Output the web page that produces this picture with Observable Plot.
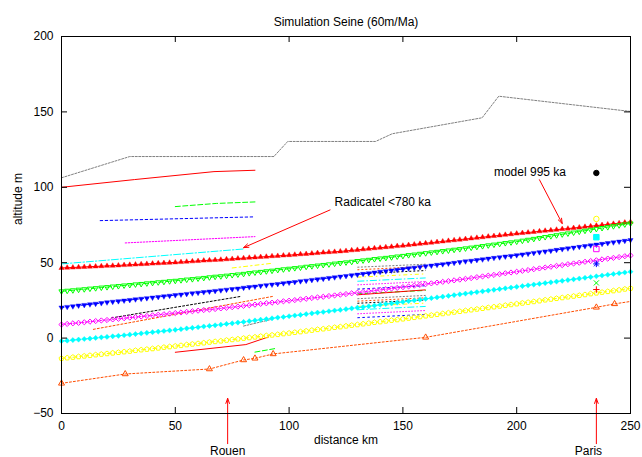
<!DOCTYPE html>
<html><head><meta charset="utf-8">
<script src="https://cdn.jsdelivr.net/npm/d3@7"></script>
<script src="https://cdn.jsdelivr.net/npm/@observablehq/plot@0.6"></script>
<style>body{margin:0;background:#fff}</style>
</head><body><div id="chart"></div>
<script>
// ---------- data ----------
const title = "Simulation Seine (60m/Ma)";
const xLabel = "distance km";
const yLabel = "altitude m";
const xTicks = [0, 50, 100, 150, 200, 250];
const yTicks = [-50, 0, 50, 100, 150, 200];

// model profile nodes (km)
const dist = [0,2.5,5,7.5,10,12.5,15,17.5,20,22.5,25,27.5,30,32.5,35,37.5,40,42.5,45,47.5,50,52.5,55,57.5,60,62.5,65,67.5,70,72.5,75,77.5,80,82.5,85,87.5,90,92.5,95,97.5,100,102.5,105,107.5,110,112.5,115,117.5,120,122.5,125,127.5,130,132.5,135,137.5,140,142.5,145,147.5,150,152.5,155,157.5,160,162.5,165,167.5,170,172.5,175,177.5,180,182.5,185,187.5,190,192.5,195,197.5,200,202.5,205,207.5,210,212.5,215,217.5,220,222.5,225,227.5,230,232.5,235,237.5,240,242.5,245,247.5,250];

const terraceRed = [46.5,46.7,46.8,47.0,47.2,47.4,47.5,47.7,47.9,48.0,48.2,48.4,48.6,48.8,49.0,49.2,49.4,49.6,49.8,50.0,50.2,50.4,50.7,50.9,51.1,51.4,51.6,51.8,52.0,52.3,52.5,52.8,53.0,53.3,53.5,53.8,54.0,54.3,54.5,54.8,55.0,55.3,55.6,55.8,56.1,56.4,56.7,57.0,57.2,57.5,57.8,58.2,58.5,58.9,59.2,59.6,59.9,60.3,60.6,61.0,61.3,61.7,62.1,62.5,62.9,63.3,63.7,64.1,64.5,64.9,65.3,65.7,66.1,66.5,66.9,67.3,67.7,68.1,68.5,68.9,69.3,69.7,70.0,70.4,70.8,71.2,71.5,71.9,72.3,72.6,73.0,73.4,73.8,74.2,74.6,75.0,75.4,75.8,76.2,76.6,77.0];
const terraceGreen = [31.0,31.4,31.7,32.1,32.4,32.8,33.1,33.5,33.8,34.2,34.5,34.9,35.2,35.6,35.9,36.3,36.6,37.0,37.3,37.7,38.0,38.4,38.8,39.1,39.5,39.9,40.3,40.7,41.0,41.4,41.8,42.2,42.6,43.1,43.5,43.9,44.3,44.7,45.2,45.6,46.0,46.4,46.8,47.3,47.7,48.1,48.5,48.9,49.4,49.8,50.2,50.6,51.1,51.5,51.9,52.4,52.8,53.2,53.6,54.1,54.5,55.0,55.4,55.9,56.3,56.8,57.2,57.7,58.1,58.6,59.0,59.5,60.0,60.5,61.0,61.5,62.0,62.5,63.0,63.5,64.0,64.6,65.2,65.8,66.4,67.0,67.6,68.2,68.8,69.4,70.0,70.6,71.2,71.8,72.4,73.0,73.6,74.2,74.8,75.4,76.0];
const terraceBlue = [20.3,20.7,21.1,21.6,22.0,22.4,22.8,23.2,23.7,24.1,24.5,24.9,25.3,25.7,26.1,26.5,26.9,27.3,27.7,28.1,28.5,28.9,29.3,29.7,30.1,30.5,30.9,31.3,31.7,32.1,32.5,32.9,33.4,33.8,34.2,34.7,35.1,35.5,35.9,36.4,36.8,37.2,37.7,38.1,38.6,39.0,39.4,39.9,40.3,40.8,41.2,41.7,42.1,42.6,43.0,43.5,44.0,44.4,44.9,45.3,45.8,46.3,46.7,47.2,47.6,48.1,48.6,49.0,49.5,49.9,50.4,50.9,51.3,51.8,52.2,52.7,53.2,53.6,54.1,54.5,55.0,55.5,56.0,56.5,57.0,57.5,58.0,58.5,59.0,59.5,60.0,60.5,61.0,61.5,62.0,62.5,63.0,63.5,64.0,64.5,65.0];
const terraceMagenta = [9.0,9.4,9.8,10.1,10.5,10.9,11.3,11.7,12.0,12.4,12.8,13.2,13.6,13.9,14.3,14.7,15.1,15.5,15.8,16.2,16.6,17.0,17.4,17.8,18.2,18.6,18.9,19.3,19.7,20.1,20.5,20.9,21.4,21.8,22.2,22.7,23.1,23.5,23.9,24.4,24.8,25.2,25.7,26.1,26.6,27.0,27.4,27.9,28.3,28.8,29.2,29.7,30.1,30.6,31.0,31.5,32.0,32.4,32.9,33.3,33.8,34.3,34.8,35.3,35.8,36.3,36.8,37.3,37.8,38.3,38.8,39.3,39.8,40.4,40.9,41.4,41.9,42.4,43.0,43.5,44.0,44.6,45.1,45.7,46.2,46.8,47.3,47.9,48.4,49.0,49.5,50.0,50.6,51.1,51.6,52.2,52.7,53.2,53.7,54.3,54.8];
const terraceCyan = [-2.0,-1.7,-1.3,-1.0,-0.6,-0.3,0.1,0.5,0.8,1.2,1.5,1.9,2.3,2.7,3.1,3.5,3.9,4.3,4.7,5.1,5.5,5.9,6.4,6.8,7.2,7.7,8.1,8.5,8.9,9.4,9.8,10.3,10.7,11.2,11.7,12.2,12.6,13.1,13.6,14.0,14.5,15.0,15.4,15.9,16.4,16.9,17.3,17.8,18.3,18.7,19.2,19.7,20.2,20.6,21.1,21.6,22.1,22.6,23.0,23.5,24.0,24.5,25.0,25.5,26.0,26.5,27.0,27.5,28.0,28.5,29.0,29.5,30.0,30.5,31.0,31.5,32.0,32.5,33.0,33.5,34.0,34.5,35.0,35.5,36.0,36.5,37.0,37.5,38.0,38.5,39.0,39.5,40.0,40.5,41.0,41.5,42.0,42.5,43.0,43.5,44.0];
const terraceYellow = [-13.5,-13.1,-12.7,-12.3,-11.9,-11.5,-11.1,-10.7,-10.3,-9.9,-9.5,-9.1,-8.7,-8.2,-7.8,-7.4,-7.0,-6.6,-6.1,-5.7,-5.3,-4.9,-4.4,-4.0,-3.6,-3.2,-2.7,-2.3,-1.9,-1.4,-1.0,-0.6,-0.1,0.3,0.7,1.2,1.6,2.0,2.4,2.9,3.3,3.8,4.2,4.7,5.2,5.7,6.1,6.6,7.1,7.5,8.0,8.5,8.9,9.4,9.9,10.4,10.8,11.3,11.8,12.2,12.7,13.2,13.7,14.2,14.7,15.2,15.7,16.2,16.7,17.2,17.7,18.2,18.7,19.2,19.7,20.2,20.7,21.2,21.7,22.2,22.7,23.2,23.7,24.2,24.7,25.3,25.8,26.3,26.8,27.3,27.8,28.3,28.8,29.4,29.9,30.4,30.9,31.4,31.9,32.5,33.0];

// lowest profile (orange, open triangles)
const orangeX = [0, 28, 65, 80, 85, 93, 160, 235, 243, 250];
const orangeY = [-30, -23.8, -20.5, -14.5, -13.4, -10.5, 0.5, 20.4, 22.7, 24.3];

// topography (grey dotted)
const topoX = [0, 30, 93.3, 99.4, 138, 145.3, 184.8, 192.1, 250];
const topoY = [106.3, 120.4, 120.4, 130.4, 130.4, 135.5, 146.1, 160.4, 150.3];

// observed terrace levels near Rouen (line type cycles 1..9)
const rouenTerraces = [
  [[0,100],[32,105.1],[67,110.4],[85,111.3]],
  [[50,87.2],[68,89.3],[85,90.3]],
  [[17,77.9],[85,80.4]],
  [[28,63.1],[85,67.3]],
  [[0,49.2],[80,59.1]],
  [[75,46.5],[93,49.7]],
  [[22,13.4],[79,27.7]],
  [[14,5.8],[93,27.7]],
  [[80,8],[92,12.3]],
  [[50,-9.4],[81,-4.3],[91,0.8]],
  [[85,-9.3],[94,-6.9]]
];
const rouenTypes = [1,2,3,4,5,6,7,8,9,1,2];

// observed levels 130-160 km
const clusterSpan = [130, 160];
const clusterTypes = [9,8,7,6,5,4,3,2,1,9,8,7,6,5,4,3];
const clusterY0 = [47.0,45.3,42.6,40.4,37.7,35.3,32.5,29.4,28.7,26.1,24.5,23.1,21.0,18.8,16.1,13.5];
const clusterY1 = [49.0,47.5,44.8,42.6,39.9,37.5,34.7,31.6,32.0,28.3,26.7,25.3,23.2,21.0,18.3,15.7];

// Paris observations
const parisX = [235, 235, 235, 235, 235, 235, 235];
const parisY = [32.2, 36.6, 49.2, 59.1, 66.9, 79, 109.5];
const parisTypes = [1,2,3,4,5,6,7];

// annotations
const labelText = ["Radicatel <780 ka", "model 995 ka", "Rouen", "Paris"];
const labelX = [120, 190, 73, 231.5];
const labelY = [90, 110, -75, -75];
const labelAnchor = ["start", "start", "middle", "middle"];
const arrowX1 = [118, 210, 73, 235];
const arrowY1 = [85, 105, -70, -70];
const arrowX2 = [80, 220, 73, 235];
const arrowY2 = [60, 76, -40, -40];

// ---------- styles ----------
const ltColor = {1:"#ff0000",2:"#00ff00",3:"#0000ff",4:"#ff00ff",5:"#00ffff",6:"#ffff00",7:"#000000",8:"#ff4d00",9:"#808080"};
const ltDash = {1:null,2:"5,2.5",3:"2.5,2.5",4:"1.5,1.5",5:"7,2,1.5,2",6:"4,3,1.5,3",7:"2,2",8:"2,2",9:"2,1.5"};

const S = (f) => ({draw(ctx, size){ const r = Math.sqrt(size / Math.PI); f(ctx, r); }});
const triUp = S((c,r)=>{c.moveTo(0,-1.15*r);c.lineTo(r,0.58*r);c.lineTo(-r,0.58*r);c.closePath();});
const triDown = S((c,r)=>{c.moveTo(0,1.15*r);c.lineTo(r,-0.58*r);c.lineTo(-r,-0.58*r);c.closePath();});
const diamond = S((c,r)=>{c.moveTo(0,-r);c.lineTo(r,0);c.lineTo(0,r);c.lineTo(-r,0);c.closePath();});
const pentagon = S((c,r)=>{for(let k=0;k<5;k++){const a=-Math.PI/2+k*2*Math.PI/5;const px=r*Math.cos(a),py=r*Math.sin(a);if(k)c.lineTo(px,py);else c.moveTo(px,py);}c.closePath();});
const square = S((c,r)=>{c.rect(-0.85*r,-0.85*r,1.7*r,1.7*r);});
const circle = S((c,r)=>{c.moveTo(0.85*r,0);c.arc(0,0,0.85*r,0,2*Math.PI);});
const plus = S((c,r)=>{c.moveTo(-r,0);c.lineTo(r,0);c.moveTo(0,-r);c.lineTo(0,r);});
const cross = S((c,r)=>{const a=0.8*r;c.moveTo(-a,-a);c.lineTo(a,a);c.moveTo(-a,a);c.lineTo(a,-a);});
const star = S((c,r)=>{const a=0.75*r;c.moveTo(-r,0);c.lineTo(r,0);c.moveTo(0,-r);c.lineTo(0,r);c.moveTo(-a,-a);c.lineTo(a,a);c.moveTo(-a,a);c.lineTo(a,-a);});

const seriesList = [
  {y: terraceRed, lt: 1, symbol: triUp, filled: true},
  {y: terraceGreen, lt: 2, symbol: triDown, filled: false},
  {y: terraceBlue, lt: 3, symbol: triDown, filled: true},
  {y: terraceMagenta, lt: 4, symbol: diamond, filled: false},
  {y: terraceCyan, lt: 5, symbol: diamond, filled: true},
  {y: terraceYellow, lt: 6, symbol: pentagon, filled: false}
];
const parisSymbols = [plus, cross, star, square, square, circle, circle];
const parisFilled = [false, false, false, false, true, false, true];

// ---------- chart ----------
const W = 642, H = 457, mL = 61, mR = 12, mT = 36, mB = 44;
const fw = W - mL - mR, fh = H - mT - mB;

const marks = [];
marks.push(Plot.line(topoY, {x: topoX, y: topoY, stroke: ltColor[9], strokeWidth: 1, strokeDasharray: ltDash[9]}));
rouenTerraces.forEach((seg, i) => {
  const t = rouenTypes[i];
  marks.push(Plot.line(seg, {x: d => d[0], y: d => d[1], stroke: ltColor[t], strokeWidth: 1, strokeDasharray: ltDash[t]}));
});
clusterTypes.forEach((t, i) => {
  marks.push(Plot.link([i], {x1: () => clusterSpan[0], x2: () => clusterSpan[1], y1: () => clusterY0[i], y2: () => clusterY1[i], stroke: ltColor[t], strokeWidth: 1, strokeDasharray: ltDash[t]}));
});
seriesList.forEach(s => {
  const col = ltColor[s.lt];
  marks.push(Plot.line(s.y, {x: dist, y: s.y, stroke: col, strokeWidth: 1, strokeDasharray: ltDash[s.lt]}));
  marks.push(Plot.dot(s.y, {x: dist, y: s.y, symbol: s.symbol, r: s.filled ? 2.6 : 2.6,
    fill: s.filled ? col : "none", stroke: col, strokeWidth: s.filled ? 0.4 : 1}));
});
marks.push(Plot.line(orangeY, {x: orangeX, y: orangeY, stroke: ltColor[8], strokeWidth: 1, strokeDasharray: ltDash[8]}));
marks.push(Plot.dot(orangeY, {x: orangeX, y: orangeY, filter: (d, i) => orangeX[i] < 250, symbol: triUp, r: 3, fill: "none", stroke: ltColor[8], strokeWidth: 1}));
parisY.forEach((v, i) => {
  const col = ltColor[parisTypes[i]];
  marks.push(Plot.dot([v], {x: () => parisX[i], y: d => d, symbol: parisSymbols[i], r: 3.2,
    fill: parisFilled[i] ? col : "none", stroke: col, strokeWidth: 1}));
});
marks.push(Plot.arrow(arrowX1, {x1: arrowX1, y1: arrowY1, x2: arrowX2, y2: arrowY2, stroke: "#ff0000", strokeWidth: 1, headLength: 8, headAngle: 40}));
["start", "middle"].forEach(anchor => {
  marks.push(Plot.text(labelText, {x: labelX, y: labelY, text: labelText, filter: (d, i) => labelAnchor[i] === anchor, textAnchor: anchor, fill: "black", fontSize: 12}));
});
marks.push(Plot.frame({stroke: "black"}));
marks.push(Plot.tickX(xTicks, {x: d => d, insetTop: fh - 6, stroke: "black"}));
marks.push(Plot.tickX(xTicks, {x: d => d, insetBottom: fh - 6, stroke: "black"}));
marks.push(Plot.tickY(yTicks, {y: d => d, insetRight: fw - 6, stroke: "black"}));
marks.push(Plot.tickY(yTicks, {y: d => d, insetLeft: fw - 6, stroke: "black"}));
marks.push(Plot.axisX(xTicks, {anchor: "bottom", tickSize: 0, tickPadding: 8, label: null, fontSize: 12, fill: "black"}));
marks.push(Plot.axisY(yTicks, {anchor: "left", tickSize: 0, tickPadding: 8, label: null, fontSize: 12, fill: "black"}));
marks.push(Plot.text([title], {frameAnchor: "top", dy: -19, fontSize: 12, fill: "black"}));
marks.push(Plot.text([xLabel], {frameAnchor: "bottom", dy: 30, fontSize: 12, fill: "black"}));
marks.push(Plot.text([yLabel], {frameAnchor: "left", dx: -43, rotate: -90, fontSize: 12, fill: "black"}));

const chart = Plot.plot({
  width: W, height: H,
  marginLeft: mL, marginRight: mR, marginTop: mT, marginBottom: mB,
  x: {domain: [0, 250]},
  y: {domain: [-50, 200]},
  style: {fontFamily: "'Liberation Sans', Arial, Helvetica, sans-serif", fontSize: "12px", background: "white", color: "black"},
  marks
});
document.getElementById("chart").appendChild(chart);
</script>
</body></html>
